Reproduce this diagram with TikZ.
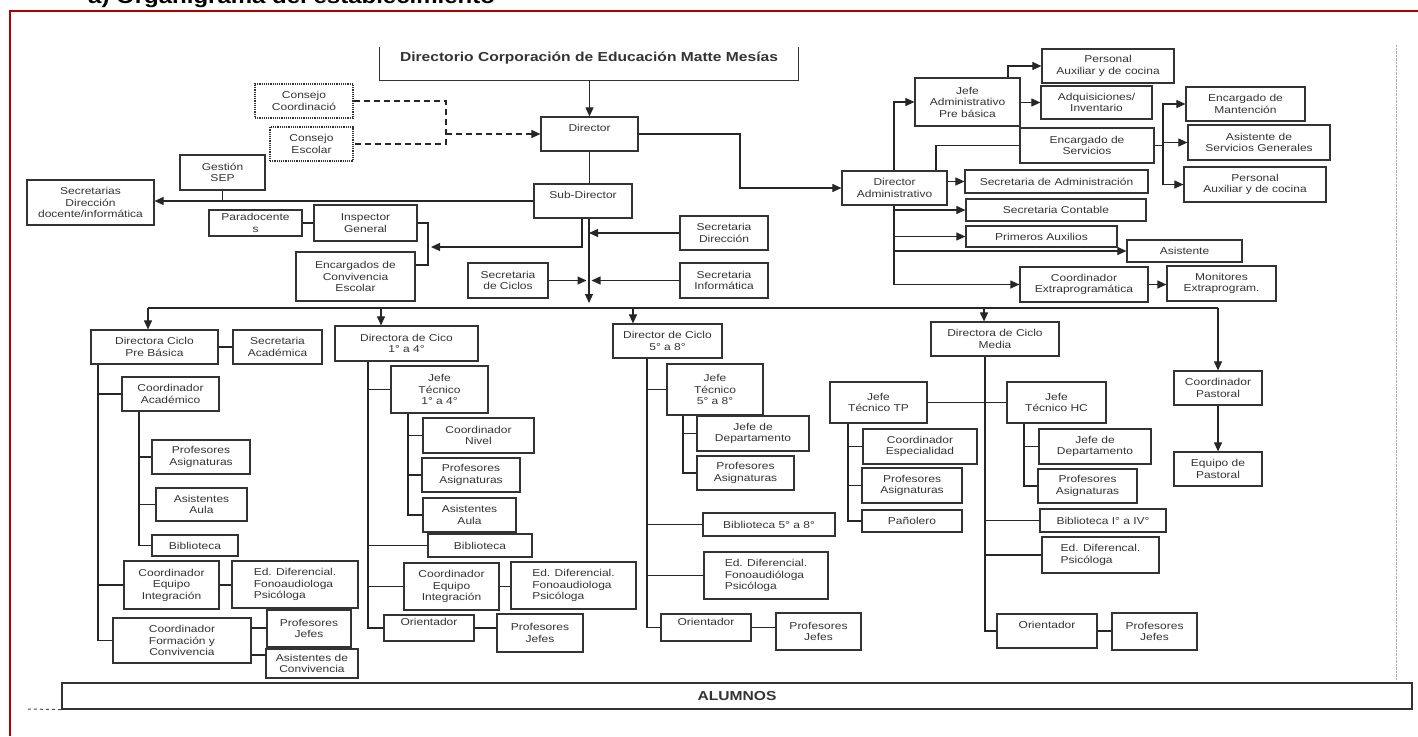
\documentclass[tikz,border=0pt]{standalone}
\usepackage{fontspec}
\setmainfont{Liberation Sans}[FakeStretch=1.2]
\usetikzlibrary{arrows.meta}

\begin{document}
\begin{tikzpicture}[x=1pt,y=-1pt,
  cell/.style n args={4}{minimum width={#3-#1}, minimum height={#4-#2}, at={({(#1+#3)/2},{(#2+#4)/2})}},
  box/.style={draw=black!80, line width=1.2pt, inner sep=0pt, align=center, text=black!80, font=\fontsize{10}{11.5}\selectfont},
  lbox/.style={box, align=left},
  cons/.style={box, densely dotted, line width=1.6pt},
  wire/.style={draw=black!85, line width=1.1pt},
  arr/.style={wire, -{Triangle[length=9pt,width=8pt]}},
  dashwire/.style={wire, dash pattern=on 6pt off 4pt}]
\useasboundingbox (0,0) rectangle (1418,736);

\draw[red!70!black, line width=2pt] (10,736) -- (10,11) -- (1418,11);
\node[anchor=base west, inner sep=0pt, font=\bfseries\fontsize{20}{22}\selectfont] (title) at (88,4) {a) Organigrama del establecimiento};
\draw[black!30, densely dotted] (1396,45) -- (1396,680);

\node[box, draw=none, cell={380}{48}{798}{80}, font=\bfseries\fontsize{13}{14}\selectfont] (dirc) {Directorio Corporación de Educación Matte Mesías\\\mbox{}};
\draw[draw=black!80, line width=1.2pt] (dirc.north west) -- (dirc.south west) -- (dirc.south east) -- (dirc.north east);
\node[cons, cell={255}{84}{353}{118}] (ccoord) {Consejo\\Coordinació};
\node[cons, cell={270}{127}{353}{161}] (cesc) {Consejo\\Escolar};
\node[box, cell={541}{117}{638}{151}] (dir) {Director\\\mbox{}};
\node[box, cell={534}{184}{632}{218}] (subd) {Sub-Director\\\mbox{}};
\node[box, cell={180}{155}{265}{190}] (gsep) {Gestión\\SEP};
\node[box, cell={27}{180}{154}{225}] (secdoc) {Secretarias\\Dirección\\docente/informática};
\node[box, cell={209}{210}{302}{236}] (parad) {Paradocente\\s};
\node[box, cell={314}{205}{417}{241}] (insp) {Inspector\\General};
\node[box, cell={296}{252}{415}{301}] (encconv) {Encargados de\\Convivencia\\Escolar};
\node[box, cell={680}{216}{768}{250}] (secdir) {Secretaria\\Dirección};
\node[box, cell={680}{263}{768}{298}] (secinf) {Secretaria\\Informática};
\node[box, cell={468}{263}{548}{298}] (seccic) {Secretaria\\de Ciclos};

\node[box, cell={842}{171}{947}{205}] (diradm) {Director\\Administrativo};
\node[box, cell={915}{78}{1020}{126}] (jefadm) {Jefe\\Administrativo\\Pre básica};
\node[box, cell={1042}{49}{1174}{83}] (persa) {Personal\\Auxiliar y de cocina};
\node[box, cell={1041}{86}{1152}{119}] (adq) {Adquisiciones/\\Inventario};
\node[box, cell={1020}{128}{1154}{163}] (encserv) {Encargado de\\Servicios};
\node[box, cell={1186}{87}{1305}{121}] (mant) {Encargado de\\Mantención};
\node[box, cell={1188}{125}{1330}{160}] (asisg) {Asistente de\\Servicios Generales};
\node[box, cell={1184}{167}{1326}{202}] (persb) {Personal\\Auxiliar y de cocina};
\node[box, cell={965}{170}{1148}{193}] (secadm) {Secretaria de Administración};
\node[box, cell={966}{199}{1146}{221}] (seccont) {Secretaria Contable};
\node[box, cell={966}{226}{1117}{247}] (paux) {Primeros Auxilios};
\node[box, cell={1127}{240}{1242}{262}] (asist) {Asistente};
\node[box, cell={1020}{267}{1148}{302}] (coordext) {Coordinador\\Extraprogramática};
\node[box, cell={1167}{266}{1276}{301}] (monit) {Monitores\\Extraprogram.};

\draw[arr] (dirc.south -| dir.north) -- (dir.north);
\coordinate (dsh) at (446,0);
\draw[dashwire] (ccoord.east) -| (dsh |- cesc.east) -- (cesc.east);
\draw[dashwire, -{Triangle[length=9pt,width=8pt]}] (dsh |- dir.west) -- (dir.west);
\draw[wire] (dir.south) -- (dir.south |- subd.north);
\coordinate (trunk) at (589,303);
\draw[arr] (subd.south -| trunk) -- (trunk);
\draw[arr] (secdir.west) -- (secdir.west -| trunk);
\draw[arr, shorten >=2.5pt] (secinf.west) -- (secinf.west -| trunk);
\draw[arr, shorten >=2.5pt] (seccic.east) -- (seccic.east -| trunk);
\draw[arr] (subd.west) -- (subd.west -| secdoc.east);
\draw[wire] (gsep.south) -- (gsep.south |- subd.west);
\draw[wire] (parad.east) -- (parad.east -| insp.west);
\coordinate (brk) at (428,265);
\draw[wire] (insp.east) -| (brk) -- (brk -| encconv.east);
\coordinate (insparr) at (582,247);
\coordinate (insptip) at (431,247);
\draw[arr] (subd.south -| insparr) -- (insparr) -- (insptip);

\coordinate (adm) at (740,0);
\draw[arr] (dir.east) -- (dir.east -| adm) |- (diradm.west);
\coordinate (admup) at (894,0);
\draw[arr] (diradm.north -| admup) |- (jefadm.west);
\foreach \n in {seccont, paux, asist, coordext}
  \draw[arr] (diradm.south -| admup) |- (\n.west);
\draw[arr] (diradm.east |- secadm.west) -- (secadm.west);
\coordinate (servup) at (936,0);
\draw[wire] (diradm.north -| servup) |- (encserv.west);
\draw[arr] (jefadm.east |- adq.west) -- (adq.west);
\coordinate (persup) at (1008,0);
\draw[arr] (jefadm.north -| persup) |- (persa.west);
\coordinate (serv) at (1163,0);
\draw[wire] (encserv.east) -- (encserv.east -| serv);
\foreach \n in {mant, asisg, persb}
  \draw[arr] (encserv.east -| serv) |- (\n.west);
\draw[arr] (coordext.east) -- (coordext.east -| monit.west);

\node[box, cell={91}{330}{218}{364}] (dirpre) {Directora Ciclo\\Pre Básica};
\node[box, cell={233}{330}{322}{364}] (secacad) {Secretaria\\Académica};
\node[box, cell={122}{377}{219}{411}] (coordac) {Coordinador\\Académico};
\node[box, cell={152}{440}{250}{474}] (profa) {Profesores\\Asignaturas};
\node[box, cell={156}{488}{247}{521}] (asaa) {Asistentes\\Aula};
\node[box, cell={152}{535}{238}{556}] (biba) {Biblioteca};
\node[box, cell={124}{561}{219}{609}] (coordinta) {Coordinador\\Equipo\\Integración};
\node[lbox, cell={232}{561}{358}{608}] (edifa) {Ed. Diferencial.\\Fonoaudiologa\\Psicóloga};
\node[box, cell={113}{618}{251}{663}] (coordform) {Coordinador\\Formación y\\Convivencia};
\node[box, cell={267}{610}{351}{647}] (profja) {Profesores\\Jefes};
\node[box, cell={266}{649}{358}{678}] (asconv) {Asistentes de\\Convivencia};

\node[box, cell={335}{326}{478}{361}] (dir14) {Directora de Cico\\1° a 4°};
\node[box, cell={391}{366}{488}{413}] (jef14) {Jefe\\Técnico\\1° a 4°};
\node[box, cell={423}{418}{534}{453}] (coordniv) {Coordinador\\Nivel};
\node[box, cell={422}{458}{520}{492}] (profb) {Profesores\\Asignaturas};
\node[box, cell={423}{498}{516}{532}] (asab) {Asistentes\\Aula};
\node[box, cell={428}{534}{532}{557}] (bibb) {Biblioteca};
\node[box, cell={404}{563}{499}{610}] (coordintb) {Coordinador\\Equipo\\Integración};
\node[lbox, cell={511}{562}{636}{609}] (edifb) {Ed. Diferencial.\\Fonoaudiologa\\Psicóloga};
\node[box, cell={384}{615}{474}{641}] (orib) {Orientador\\\mbox{}};
\node[box, cell={497}{614}{583}{652}] (profjb) {Profesores\\Jefes};

\node[box, cell={613}{324}{722}{358}] (dir58) {Director de Ciclo\\5° a 8°};
\node[box, cell={667}{364}{763}{415}] (jef58) {Jefe\\Técnico\\5° a 8°};
\node[box, cell={697}{416}{809}{451}] (jefdepc) {Jefe de\\Departamento};
\node[box, cell={697}{456}{794}{490}] (profc) {Profesores\\Asignaturas};
\node[box, cell={703}{513}{835}{536}] (bibc) {Biblioteca 5° a 8°};
\node[lbox, cell={704}{552}{828}{599}] (edifc) {Ed. Diferencial.\\Fonoaudióloga\\Psicóloga};
\node[box, cell={661}{614}{751}{641}] (oric) {Orientador\\\mbox{}};
\node[box, cell={776}{613}{861}{650}] (profjc) {Profesores\\Jefes};

\node[box, cell={931}{322}{1059}{356}] (dirmed) {Directora de Ciclo\\Media};
\node[box, cell={830}{382}{927}{423}] (jeftp) {Jefe\\Técnico TP};
\node[box, cell={1007}{382}{1106}{423}] (jefhc) {Jefe\\Técnico HC};
\node[box, cell={863}{429}{977}{464}] (coordesp) {Coordinador\\Especialidad};
\node[box, cell={862}{468}{962}{503}] (profd) {Profesores\\Asignaturas};
\node[box, cell={862}{510}{962}{532}] (panol) {Pañolero};
\node[box, cell={1039}{429}{1151}{464}] (jefdepe) {Jefe de\\Departamento};
\node[box, cell={1038}{469}{1137}{503}] (profe) {Profesores\\Asignaturas};
\node[box, cell={1040}{509}{1166}{532}] (bibe) {Biblioteca I° a IV°};
\node[lbox, cell={1042}{537}{1159}{573}] (edife) {Ed. Diferencal.\\Psicóloga};
\node[box, cell={997}{614}{1097}{648}] (orie) {Orientador\\\mbox{}};
\node[box, cell={1112}{613}{1197}{650}] (profje) {Profesores\\Jefes};
\node[box, cell={1174}{371}{1262}{405}] (cpast) {Coordinador\\Pastoral};
\node[box, cell={1174}{452}{1262}{486}] (epast) {Equipo de\\Pastoral};

\coordinate (busl) at (148,308);
\coordinate (busr) at (1218,308);
\draw[wire] (busl) -- (busr);
\foreach \x/\n in {148/dirpre, 381/dir14, 633/dir58, 984/dirmed} {
  \coordinate (drop) at (\x,308);
  \draw[arr] (drop) -- (drop |- \n.north);
}
\draw[arr] (busr) -- (busr |- cpast.north);
\draw[arr] (cpast.south) -- (epast.north);

\coordinate (ca) at (98,0);
\foreach \n in {coordac, coordinta, coordform}
  \draw[wire] (dirpre.south -| ca) |- (\n.west);
\coordinate (cb) at (139,0);
\foreach \n in {profa, asaa, biba}
  \draw[wire] (coordac.south -| cb) |- (\n.west);
\draw[wire] (dirpre.east) -- (secacad.west);
\draw[wire] (coordinta.east) -- (coordinta.east -| edifa.west);
\coordinate (ja) at (0,628);
\coordinate (jb) at (0,655);
\draw[wire] (coordform.east |- ja) -- (profja.west |- ja);
\draw[wire] (coordform.east |- jb) -- (asconv.west |- jb);

\coordinate (cc) at (368,0);
\foreach \n in {jef14, bibb, coordintb, orib}
  \draw[wire] (dir14.south -| cc) |- (\n.west);
\coordinate (cd) at (408,0);
\foreach \n in {coordniv, profb, asab}
  \draw[wire] (jef14.south -| cd) |- (\n.west);
\draw[wire] (coordintb.east) -- (coordintb.east -| edifb.west);
\draw[wire] (orib.east) -- (orib.east -| profjb.west);

\coordinate (ce) at (647,0);
\foreach \n in {jef58, bibc, edifc, oric}
  \draw[wire] (dir58.south -| ce) |- (\n.west);
\coordinate (cf) at (683,0);
\foreach \n in {jefdepc, profc}
  \draw[wire] (jef58.south -| cf) |- (\n.west);
\draw[wire] (oric.east) -- (oric.east -| profjc.west);

\coordinate (cg) at (985,0);
\draw[wire] (dirmed.south -| cg) |- (orie.west);
\foreach \n in {bibe, edife}
  \draw[wire] (\n.west -| cg) -- (\n.west);
\draw[wire] (jeftp.east) -- (jefhc.west);
\coordinate (ch) at (848,0);
\foreach \n in {coordesp, profd, panol}
  \draw[wire] (jeftp.south -| ch) |- (\n.west);
\coordinate (ci) at (1024,0);
\foreach \n in {jefdepe, profe}
  \draw[wire] (jefhc.south -| ci) |- (\n.west);
\draw[wire] (orie.east) -- (orie.east -| profje.west);

\node[box, cell={62}{683}{1412}{709}, font=\bfseries\fontsize{13}{14}\selectfont] (alum) {ALUMNOS};
\coordinate (tail) at (28,709);
\draw[black!70, line width=1pt, dashed] (tail) -- (alum.south west);
\end{tikzpicture}
\end{document}
